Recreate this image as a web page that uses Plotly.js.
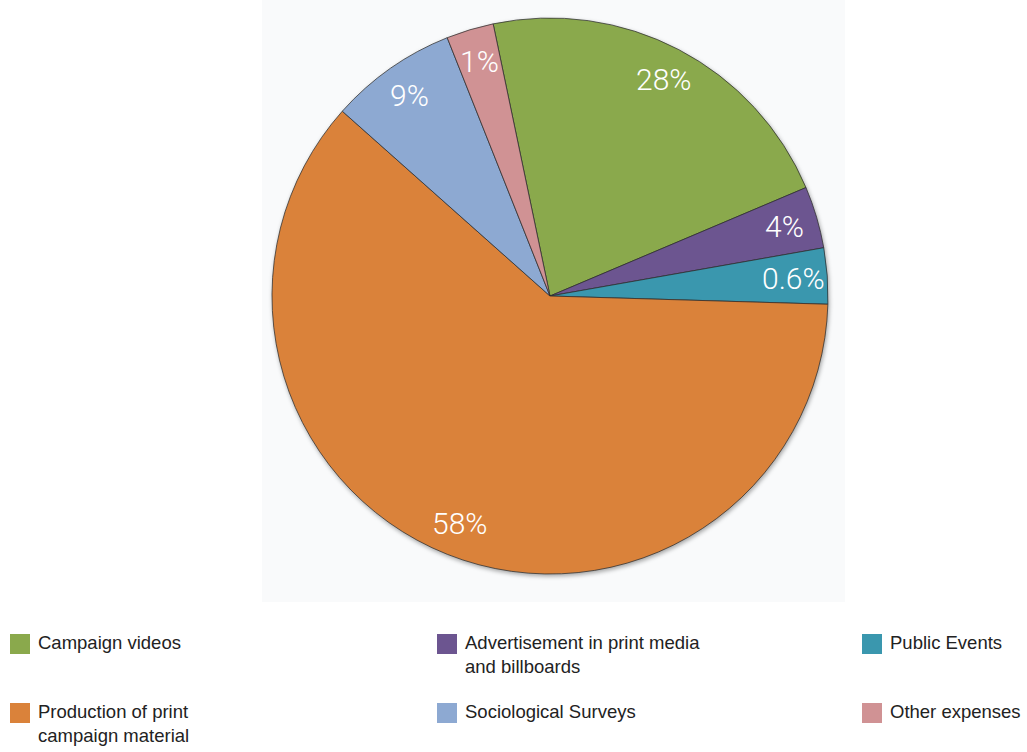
<!DOCTYPE html>
<html>
<head>
<meta charset="utf-8">
<script src="https://cdn.plot.ly/plotly-3.0.1.min.js"></script>
<style>
  html, body { margin: 0; padding: 0; background: #ffffff; }
  #chart { width: 1027px; height: 752px; }
  .pielayer { filter: drop-shadow(1px 2px 2px rgba(0,0,0,0.35)); }
</style>
</head>
<body>
<div id="chart"></div>
<script>
// Categories (legend order, row by row)
const categories = [
  'Campaign videos',
  'Advertisement in print media<br>and billboards',
  'Public Events',
  'Production of print<br>campaign material',
  'Sociological Surveys',
  'Other expenses'
];
// Slice sizes as drawn in the picture (share of the circle, %)
const sliceValues = [21.9, 3.6, 3.25, 61.1, 7.4, 2.75];
// Printed labels on the slices
const sliceLabels = ['28%', '4%', '0.6%', '58%', '9%', '1%'];
const sliceColors = ['#8aa94c', '#6c5590', '#3a97ae', '#da823a', '#8da9d2', '#d09294'];

const W = 1027, H = 752;
const cx = 550, cy = 296, R = 278;
const startAngle = -11.8;
const labelRadius = 0.88;

const domain = {
  x: [(cx - R) / W, (cx + R) / W],
  y: [(H - cy - R) / H, (H - cy + R) / H]
};

const trace = {
  type: 'pie',
  labels: categories,
  values: sliceValues,
  sort: false,
  direction: 'clockwise',
  rotation: startAngle,
  marker: { colors: sliceColors, line: { color: 'rgba(45,45,45,0.75)', width: 1 } },
  textinfo: 'none',
  hoverinfo: 'label+percent',
  showlegend: false,
  domain: domain
};

// Slice labels placed along each slice's mid angle
const total = sliceValues.reduce((a, b) => a + b, 0);
let acc = 0;
const annotations = sliceValues.map((v, i) => {
  const mid = startAngle + (acc + v / 2) / total * 360;
  acc += v;
  const a = mid * Math.PI / 180;
  const px = cx + labelRadius * R * Math.sin(a);
  const py = cy - labelRadius * R * Math.cos(a);
  return {
    xref: 'paper', yref: 'paper',
    x: px / W, y: 1 - py / H,
    xanchor: 'center', yanchor: 'middle',
    text: sliceLabels[i], showarrow: false,
    font: { family: 'Roboto, "Liberation Sans", sans-serif', size: 30, weight: 300, color: '#ffffff' }
  };
});

// Legend drawn as a 3-column grid below the pie
const legendCols = [10, 437, 862];
const legendRows = [634, 703];
const swatch = 20;
const shapes = [{
  type: 'rect', xref: 'paper', yref: 'paper', layer: 'below',
  x0: 262 / W, x1: 845 / W, y0: (H - 602) / H, y1: 1,
  fillcolor: '#f9fafb', line: { width: 0 }
}];
categories.forEach((c, i) => {
  const lx = legendCols[i % 3];
  const ly = legendRows[Math.floor(i / 3)];
  shapes.push({
    type: 'rect', xref: 'paper', yref: 'paper',
    x0: lx / W, x1: (lx + swatch) / W,
    y0: 1 - (ly + swatch) / H, y1: 1 - ly / H,
    fillcolor: sliceColors[i], line: { width: 0 }
  });
  annotations.push({
    xref: 'paper', yref: 'paper',
    x: (lx + 26) / W, y: 1 - (ly - 4) / H,
    xanchor: 'left', yanchor: 'top', align: 'left',
    text: c, showarrow: false,
    font: { family: '"Liberation Sans", Arial, sans-serif', size: 18.5, color: '#222222' }
  });
});

const layout = {
  width: W, height: H,
  margin: { l: 0, r: 0, t: 0, b: 0 },
  paper_bgcolor: '#ffffff',
  showlegend: false,
  shapes: shapes,
  annotations: annotations
};

Plotly.newPlot('chart', [trace], layout, { displayModeBar: false, staticPlot: true });
</script>
</body>
</html>
